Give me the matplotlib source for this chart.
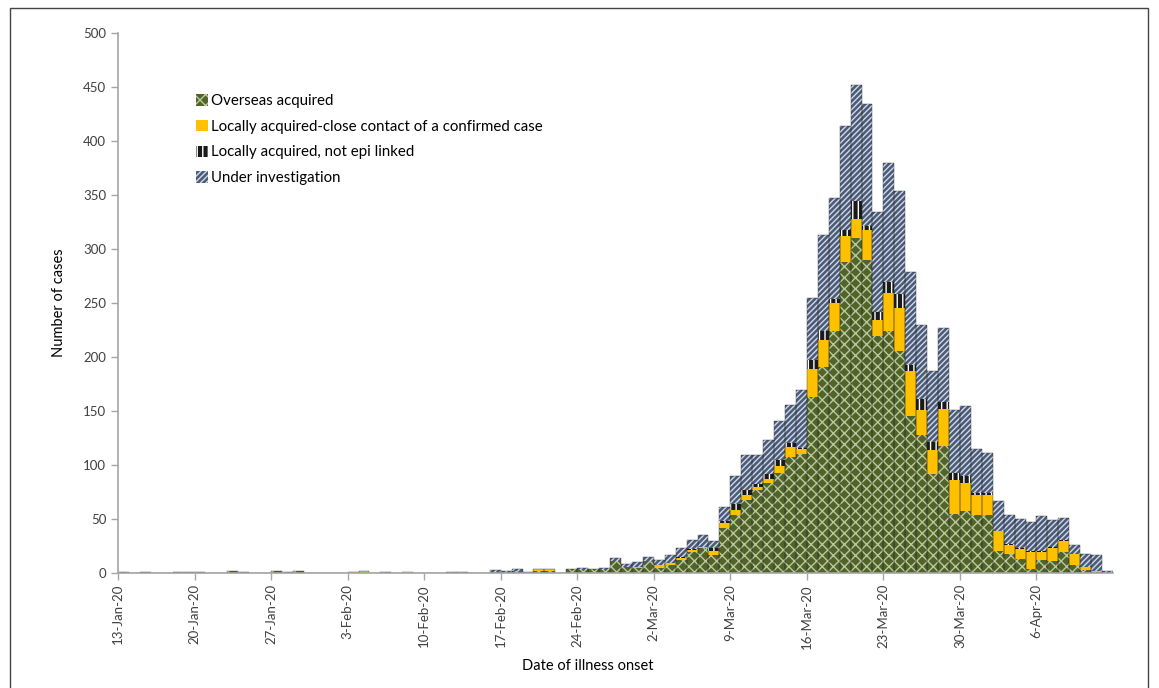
import matplotlib
matplotlib.use("Agg")
import matplotlib.pyplot as plt
import matplotlib.patches as mpatches
import numpy as np
import datetime as dt

plt.rcParams['font.family'] = ['Lato', 'DejaVu Sans']
plt.rcParams['hatch.linewidth'] = 1.0

start_date = dt.date(2020, 1, 13)
n_days = 91
dates = [start_date + dt.timedelta(days=i) for i in range(n_days)]
tick_labels = ["13-Jan-20", "20-Jan-20", "27-Jan-20", "3-Feb-20", "10-Feb-20", "17-Feb-20",
               "24-Feb-20", "2-Mar-20", "9-Mar-20", "16-Mar-20", "23-Mar-20", "30-Mar-20", "6-Apr-20"]

overseas = [1, 0, 1, 0, 0, 1, 1, 1, 0, 0, 2, 1, 0, 0, 2, 1, 2, 0, 0, 0,
            0, 0, 0, 0, 1, 0, 0, 0, 0, 0, 1, 1, 0, 0, 1, 1, 2, 1, 2, 2,
            0, 4, 3, 4, 3, 11, 6, 5, 11, 5, 7, 12, 19, 23, 17, 42, 54, 68, 77, 83,
            93, 107, 110, 163, 191, 224, 288, 310, 290, 219, 224, 206, 145, 128, 92, 118, 55, 57, 54, 54,
            20, 18, 13, 4, 12, 11, 19, 7, 3, 1, 0]
local_contact = [0, 0, 0, 0, 0, 0, 0, 0, 0, 0, 0, 0, 0, 0, 0, 0, 0, 0, 0, 0,
                 0, 1, 2, 0, 0, 0, 1, 0, 0, 0, 0, 0, 0, 0, 0, 0, 0, 0, 2, 2,
                 0, 0, 0, 0, 0, 0, 0, 1, 0, 2, 2, 2, 2, 1, 3, 4, 4, 4, 3, 4,
                 6, 10, 5, 26, 25, 26, 24, 18, 28, 15, 35, 39, 42, 23, 22, 34, 31, 26, 18, 18,
                 19, 8, 9, 15, 7, 12, 11, 11, 3, 1, 0]
local_unlinked = [0] * 51 + [1, 1, 0, 3, 2, 6, 5, 2, 5,
                             6, 3, 1, 8, 8, 4, 6, 16, 3, 8, 10, 13, 6, 10, 7, 6, 7, 7, 2, 2,
                             0, 1, 1, 1, 1, 1, 1, 0, 0, 0, 0]
under_investigation = [0] * 34 + [2, 1, 2, 0, 0, 0,
                                  0, 0, 2, 0, 2, 3, 2, 4, 4, 5, 8, 8, 9, 11, 7, 13, 26, 32, 27, 31,
                                  36, 36, 53, 58, 89, 93, 96, 108, 113, 92, 111, 96, 86, 69, 66, 69, 58, 65, 41, 37,
                                  28, 27, 27, 27, 33, 25, 20, 8, 12, 15, 2]

series = [
    ("Overseas acquired", overseas, dict(facecolor="#506427", edgecolor="#b9c7a0", hatch="xxx")),
    ("Locally acquired-close contact of a confirmed case", local_contact,
     dict(facecolor="#ffc000", edgecolor="#ffc000", hatch=None)),
    ("Locally acquired, not epi linked", local_unlinked,
     dict(facecolor="#1a1a1a", edgecolor="#ffffff", hatch="|||")),
    ("Under investigation", under_investigation,
     dict(facecolor="#4a5b7a", edgecolor="#d3d9e3", hatch="//////")),
]

fig = plt.figure(figsize=(11.59, 6.88), dpi=100)
ax = fig.add_axes([118 / 1159, 1 - 573 / 688, (1113 - 118) / 1159, (573 - 33) / 688])

x = np.arange(n_days)
bottom = np.zeros(n_days)
handles = []
for name, vals, style in series:
    v = np.array(vals, dtype=float)
    ax.bar(x, v, width=1.0, bottom=bottom, align="edge", linewidth=0, **style)
    bottom += v
    handles.append(mpatches.Patch(label=name, linewidth=0, **style))
# thin outlines around each day's column (Excel-like)
ax.bar(x, bottom, width=1.0, align="edge", fill=False, edgecolor="#222222", linewidth=0.25)

ax.set_xlim(0, n_days)
ax.set_ylim(0, 500)
ax.set_yticks(np.arange(0, 501, 50))
ax.set_xticks(np.arange(0, n_days - 6, 7))
ax.set_xticklabels(tick_labels, rotation=90)

for s in ["top", "right"]:
    ax.spines[s].set_visible(False)
for s in ["left", "bottom"]:
    ax.spines[s].set_color("#a6a6a6")
    ax.spines[s].set_linewidth(1.2)
ax.tick_params(axis="both", colors="#a6a6a6", labelcolor="#404040", labelsize=9.5,
               length=5, width=1, direction="out")
ax.tick_params(axis="x", pad=3)

ax.set_ylabel("Number of cases", fontsize=10.5, color="#000000", labelpad=12)
fig.text(588 / 1159, 1 - 666 / 688, "Date of illness onset", ha="center", va="center",
         fontsize=10.5, color="#000000")

leg = ax.legend(handles=handles, loc="upper left", bbox_to_anchor=(0.072, 0.898),
                frameon=False, fontsize=10.8, handlelength=0.8, handleheight=0.8,
                handletextpad=0.2, labelspacing=0.78, borderaxespad=0)

# outer frame around the whole picture
fig.patches.append(mpatches.Rectangle((10 / 1159, -0.01), (1148 - 10) / 1159, (688 - 8) / 688 + 0.01,
                                      transform=fig.transFigure, fill=False,
                                      edgecolor="#444444", linewidth=1.0))

fig.savefig("out.png", dpi=100)
